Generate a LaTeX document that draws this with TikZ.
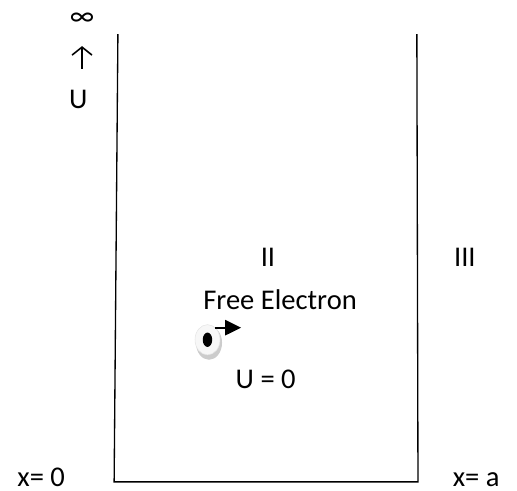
\documentclass[tikz,border=0pt]{standalone}
\usepackage{fontspec}
\setmainfont{Carlito}
\usetikzlibrary{arrows.meta,shapes.geometric}
\tikzset{
    label/.style={black,inner sep=0pt,font=\fontsize{21.5}{24}\selectfont},
    wall/.style={line width=1pt,black},
}
\begin{document}
\begin{tikzpicture}
            \useasboundingbox (0,0) rectangle (13.68,12.99);
            % well
            \coordinate (lefttop) at (3.12,12.09);
            \coordinate (leftbot) at (3.02,0.24);
            \coordinate (rightbot) at (11.06,0.24);
            \coordinate (righttop) at (11.03,12.09);
            \draw[wall] (lefttop) -- (leftbot) -- (rightbot) -- (righttop);
            % labels
            \node[label] (inf) at (2.17,12.49) {∞};
            \node[label] (pot) at (2.07,10.36) {U};
            \coordinate (arrowbot) at (2.17,11.17);
            \coordinate (arrowtop) at (2.17,11.77);
            \draw[line width=1.2pt,-{Straight Barb[length=6pt,width=15pt]}] (arrowbot) -- (arrowtop);
            \node[label] (two) at (7.09,6.19) {II};
            \node[label] (three) at (12.3,6.19) {III};
            \node[label] (free) at (7.41,5.06) {Free Electron};
            \node[label] (zero) at (7.03,2.94) {U = 0};
            \node[label,anchor=base] (xzero) at (1.09,0.106) {x= 0};
            \node[label,anchor=base] (xa) at (12.6,0.106) {x= a};
            % electron
            \fill[black!20] (5.53,3.92) ellipse (0.345 and 0.45);
            \node[ellipse,draw=black!10,fill=black!3,minimum width=0.66cm,minimum height=0.8cm,inner sep=0pt] (electron) at (5.49,4.0) {};
            \fill[black] (electron.center) ellipse (0.125 and 0.19);
            \coordinate (tip) at (6.38,4.32);
            \draw[line width=1.3pt,-{Triangle[length=12pt,width=11.5pt]}] (5.69,4.32) -- (tip);
\end{tikzpicture}
\end{document}
